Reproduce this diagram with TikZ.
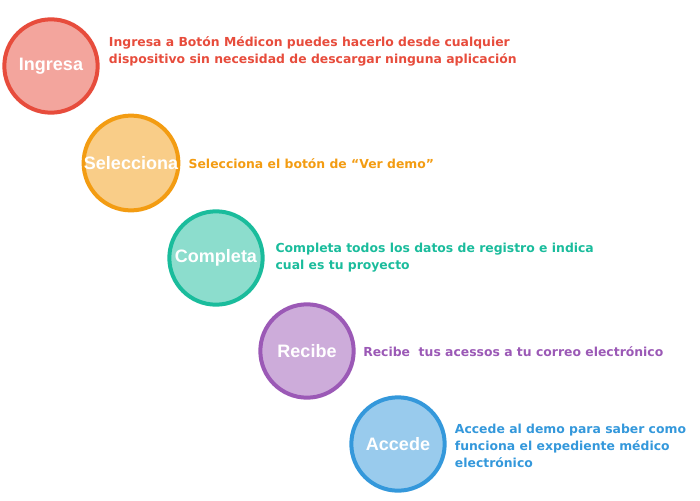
\documentclass[tikz,border=0pt]{standalone}
\usepackage{fontspec}
\setmainfont{Liberation Sans}
\newfontfamily\descfont{DejaVu Sans}
\usepackage{xcolor}
\usepackage{tikz}
\usetikzlibrary{positioning}

\definecolor{stepred}{RGB}{231,76,60}
\definecolor{steporange}{RGB}{243,156,18}
\definecolor{stepteal}{RGB}{26,188,156}
\definecolor{steppurple}{RGB}{155,89,182}
\definecolor{stepblue}{RGB}{52,152,219}

\tikzset{
  stepcircle/.style={circle, draw=#1, fill=#1!50, line width=3pt,
    minimum size=70pt, inner sep=0pt, text=white,
    font=\fontsize{13.5}{15}\selectfont\bfseries},
  stepdesc/.style={text=#1, align=left, inner sep=0pt,
    font=\descfont\fontsize{9.3}{12.75}\selectfont\bfseries}
}

\begin{document}
\begin{tikzpicture}[x=0.75pt, y=-0.75pt]
\useasboundingbox (0,0) rectangle (700,500);
% Step circles
\node[stepcircle=stepred]    (ingresa)    at (51,66)   {Ingresa};
\node[stepcircle=steporange] (selecciona) at (131,163) {Selecciona};
\node[stepcircle=stepteal]   (completa)   at (216,258) {Completa};
\node[stepcircle=steppurple] (recibe)     at (307,351) {Recibe};
\node[stepcircle=stepblue]   (accede)     at (398,444) {Accede};
% Step descriptions
\node[stepdesc=stepred, anchor=west, yshift=11pt]
     at ([xshift=6.75pt]ingresa.east) (ingresatxt)
     {Ingresa a Botón Médicon puedes hacerlo desde cualquier\\dispositivo sin necesidad de descargar ninguna aplicación};
\node[stepdesc=steporange, anchor=west, yshift=-0.75pt]
     at ([xshift=6pt]selecciona.east) (seleccionatxt)
     {Selecciona el botón de “Ver demo”};
\node[stepdesc=stepteal, anchor=west]
     at ([xshift=8pt]completa.east) (completatxt)
     {Completa todos los datos de registro e indica\\cual es tu proyecto};
\node[stepdesc=steppurple, anchor=west, yshift=-0.75pt]
     at ([xshift=5.5pt]recibe.east) (recibetxt)
     {Recibe\ \ tus acessos a tu correo electrónico};
\node[stepdesc=stepblue, anchor=west, yshift=-1.2pt]
     at ([xshift=6pt]accede.east) (accedetxt)
     {Accede al demo para saber como\\funciona el expediente médico\\electrónico};
\end{tikzpicture}
\end{document}
